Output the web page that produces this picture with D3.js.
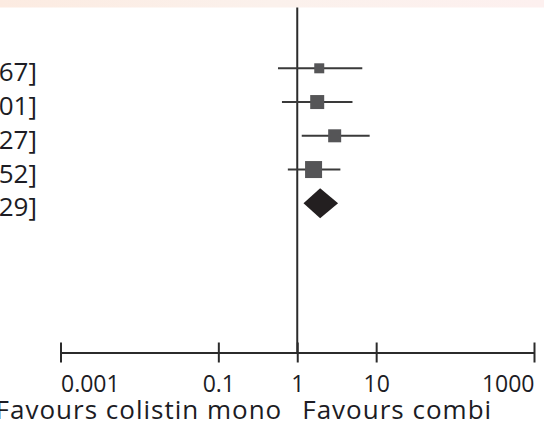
<!DOCTYPE html>
<html><head><meta charset="utf-8">
<script src="https://cdn.jsdelivr.net/npm/d3@7"></script>
<style>html,body{margin:0;padding:0;background:#fff;overflow:hidden}</style>
</head><body>
<svg id="c" width="544" height="430"></svg>
<script>
// Data (studies, odds ratios with 95% CI; last row is pooled estimate)
const studies   = ["Study 1", "Study 2", "Study 3", "Study 4", "Total"];
const estimates = [1.90, 1.79, 2.98, 1.61, 1.95];
const lowers    = [0.57, 0.64, 1.14, 0.76, 1.20];
const uppers    = [6.67, 5.01, 8.27, 3.52, 3.29];
const weights   = [10, 14, 13, 17];           // relative study weight (marker size)
const isPooled  = [false, false, false, false, true];
const tickValues = [0.001, 0.1, 1, 10, 1000];
const tickLabels = ["0.001", "0.1", "1", "10", "1000"];
const favourLeft = "Favours colistin mono";
const favourRight = "Favours combi";

const svg = d3.select("#c");
const defs = svg.append("defs");
const g = defs.append("linearGradient").attr("id","band");
g.append("stop").attr("offset","0%").attr("stop-color","#fcebe1");
g.append("stop").attr("offset","50%").attr("stop-color","#fbf1ec");
g.append("stop").attr("offset","100%").attr("stop-color","#fdf0ef");
svg.append("rect").attr("x",0).attr("y",0).attr("width",544).attr("height",7.5).attr("fill","url(#band)");

const x = d3.scaleLog().domain([0.001, 1000]).range([60.5, 534]);
const y = d3.scalePoint().domain(studies).range([68.3, 203.3]);
const axisY = 352.5;
const font = "'Open Sans', Lato, sans-serif";
const txt = "#1c1c24";

// reference line at 1
svg.append("line").attr("x1",x(1)).attr("x2",x(1)).attr("y1",7.5).attr("y2",axisY)
  .attr("stroke","#2b2b2b").attr("stroke-width",2);

// axis
const axis = d3.axisBottom(x).tickValues(tickValues).tickSize(0).tickFormat((d,i)=>tickLabels[i]);
const ax = svg.append("g").attr("transform",`translate(0,${axisY})`).call(axis);
ax.select(".domain").attr("stroke","#2b2b2b").attr("stroke-width",2);
ax.selectAll(".tick").append("line").attr("y1",-10).attr("y2",10)
  .attr("stroke","#2b2b2b").attr("stroke-width",2);
const nT = tickValues.length;
ax.selectAll(".tick text").attr("y",39).attr("dy",0)
  .attr("text-anchor",(d,i)=> i===0 ? "start" : (i===nT-1 ? "end" : "middle"))
  .attr("font-family",font).attr("font-size",23).attr("fill",txt);

svg.append("text").attr("x",x(1)-15).attr("y",419).attr("text-anchor","end")
  .attr("font-family",font).attr("font-size",26).attr("letter-spacing",1).attr("fill",txt).text(favourLeft);
svg.append("text").attr("x",x(1)+5).attr("y",419).attr("text-anchor","start")
  .attr("font-family",font).attr("font-size",26).attr("letter-spacing",1).attr("fill",txt).text(favourRight);

const rows = studies.map((s,i)=>({s, est:estimates[i], lo:lowers[i], hi:uppers[i], w:weights[i], pooled:isPooled[i]}));

// CI lines
svg.selectAll(".ci").data(rows.filter(d=>!d.pooled)).join("line")
  .attr("x1",d=>x(d.lo)).attr("x2",d=>x(d.hi)).attr("y1",d=>y(d.s)).attr("y2",d=>y(d.s))
  .attr("stroke","#3a3a3a").attr("stroke-width",2);
// squares
svg.selectAll(".sq").data(rows.filter(d=>!d.pooled)).join("rect")
  .attr("x",d=>x(d.est)-d.w/2).attr("y",d=>y(d.s)-d.w/2)
  .attr("width",d=>d.w).attr("height",d=>d.w).attr("fill","#555557");
// diamond
rows.filter(d=>d.pooled).forEach(d=>{
  const cy = y(d.s), h = 15;
  svg.append("path").attr("d",`M${x(d.lo)},${cy}L${x(d.est)},${cy-h}L${x(d.hi)},${cy}L${x(d.est)},${cy+h}Z`)
    .attr("fill","#231f20");
});

// labels (mostly cut off at the left edge, as in the reference)
svg.selectAll(".lab").data(rows).join("text")
  .attr("x",37).attr("y",d=>y(d.s)+13).attr("text-anchor","end")
  .attr("font-family",font).attr("font-size",26).attr("fill",txt)
  .text(d=>`${d.est.toFixed(2)} [${d.lo.toFixed(2)}, ${d.hi.toFixed(2)}]`);
</script>
</body></html>
